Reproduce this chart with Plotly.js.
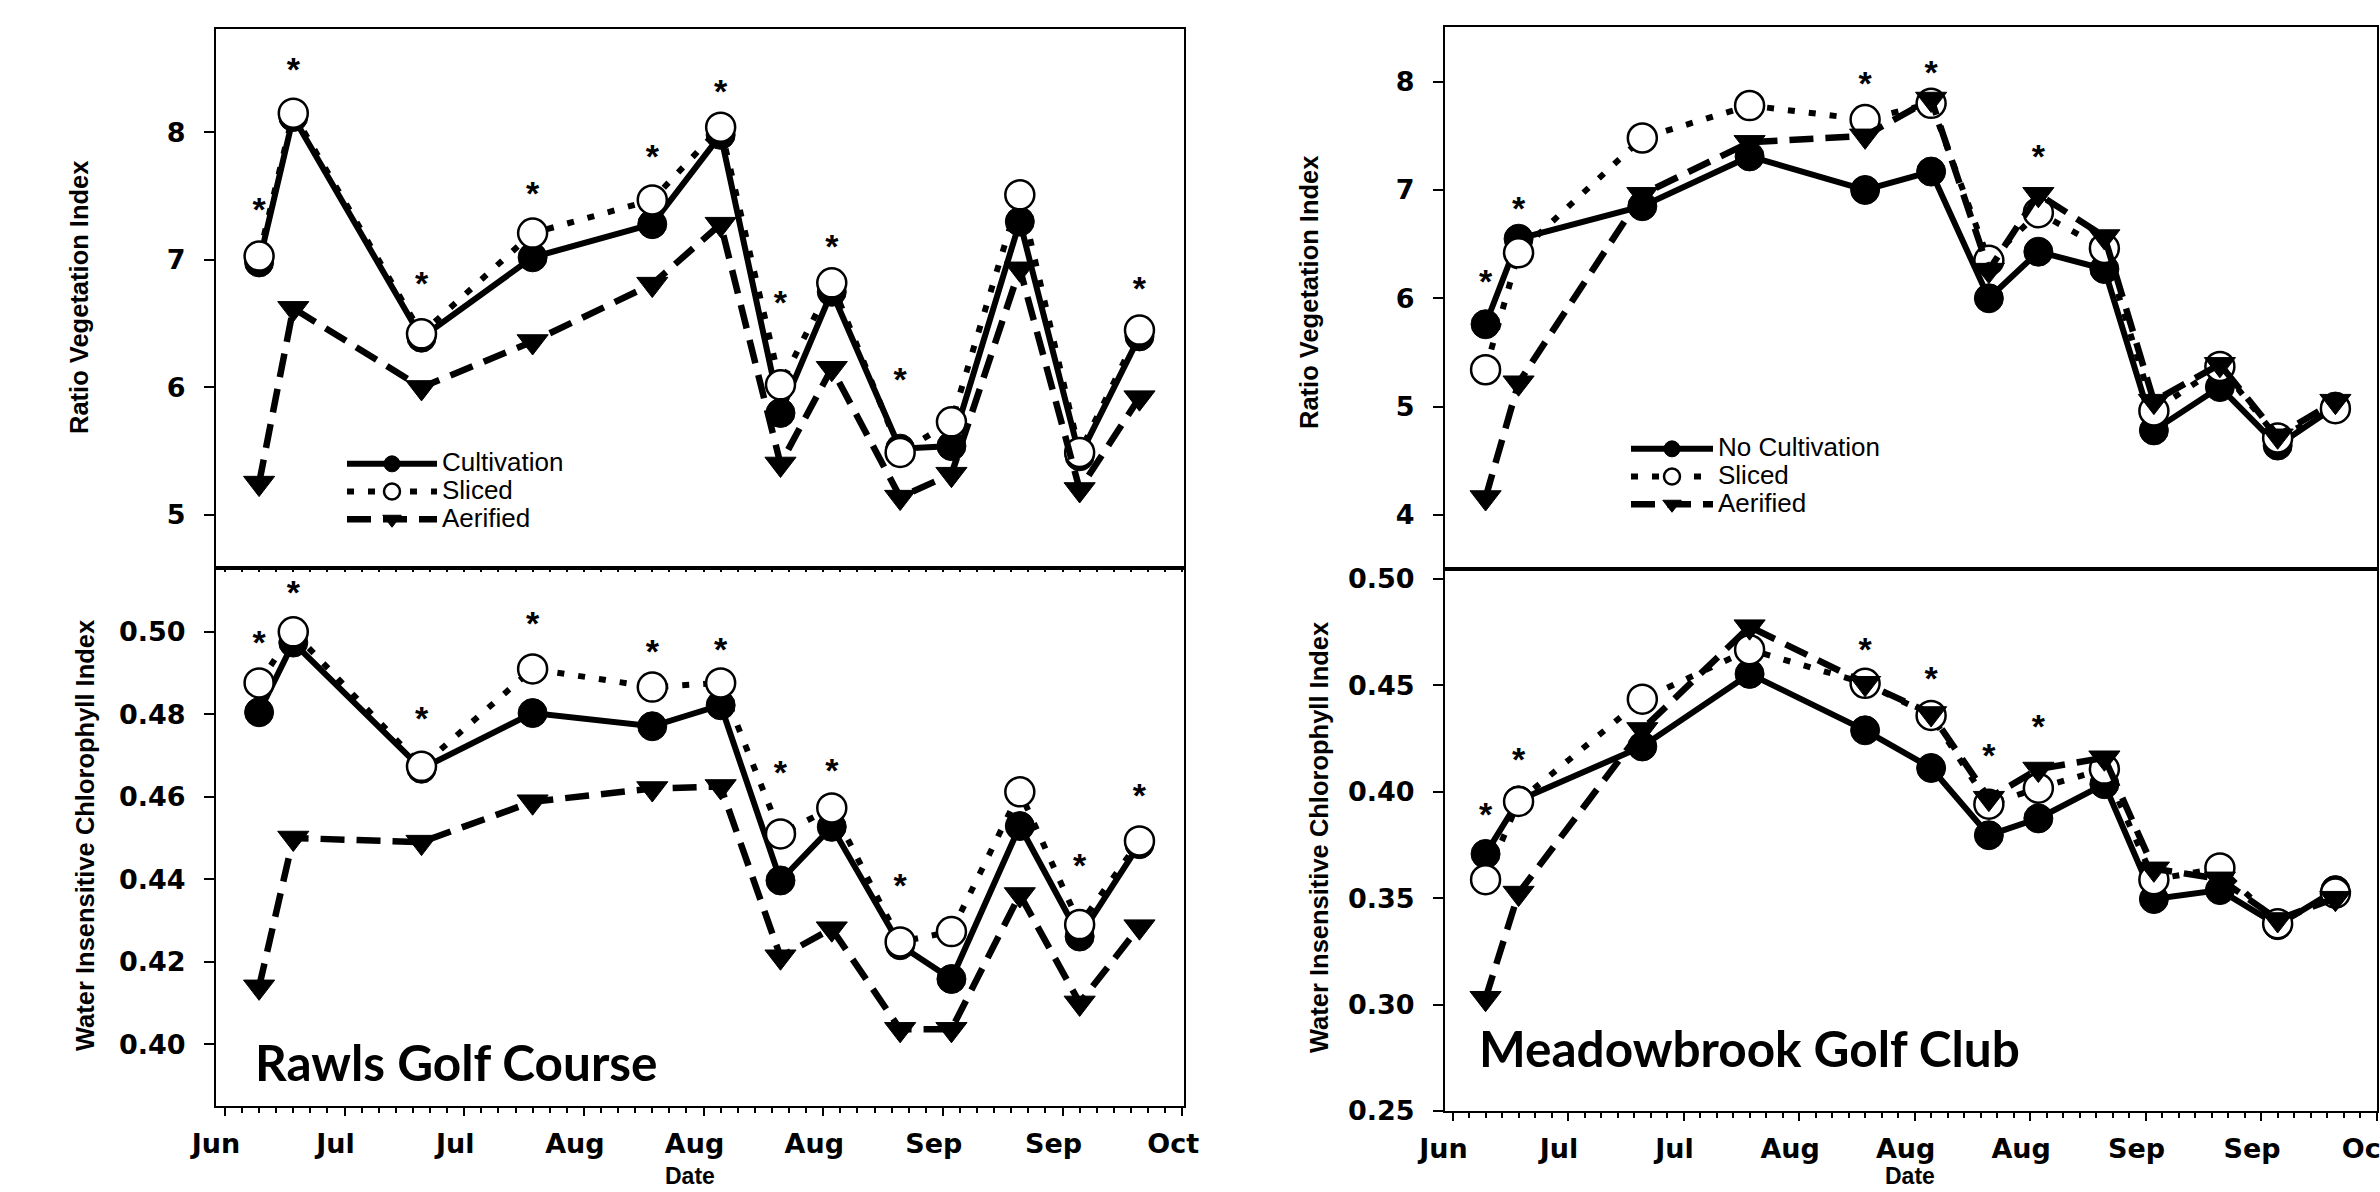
<!DOCTYPE html>
<html>
<head>
<meta charset="utf-8">
<script src="https://cdn.plot.ly/plotly-3.0.1.min.js"></script>
<style>
  html, body { margin: 0; padding: 0; background: #ffffff; }
  #chart { width: 2380px; height: 1192px; }
</style>
</head>
<body>
<div id="chart"></div>
<script>
// ---------------- DATA ----------------
const sampleDates = ['2014-06-25','2014-06-29','2014-07-14','2014-07-27','2014-08-10','2014-08-18',
                     '2014-08-25','2014-08-31','2014-09-08','2014-09-14','2014-09-22','2014-09-29','2014-10-06'];

const tickDates  = ['2014-06-21','2014-07-05','2014-07-19','2014-08-02','2014-08-16','2014-08-30','2014-09-13','2014-09-27','2014-10-11'];
const tickLabels = ['Jun','Jul','Jul','Aug','Aug','Aug','Sep','Sep','Oct'];

const rviTicks   = [4, 5, 6, 7, 8];
const rviLabels  = ['4', '5', '6', '7', '8'];
const wiciTicksRawls  = [0.40, 0.42, 0.44, 0.46, 0.48, 0.50];
const wiciLabelsRawls = ['0.40', '0.42', '0.44', '0.46', '0.48', '0.50'];
const wiciTicksMeadow  = [0.25, 0.30, 0.35, 0.40, 0.45, 0.50];
const wiciLabelsMeadow = ['0.25', '0.30', '0.35', '0.40', '0.45', '0.50'];

// Rawls Golf Course
const rawlsNames = ['Cultivation', 'Sliced', 'Aerified'];
const rawlsRviCultivation = [6.98, 8.12, 6.39, 7.02, 7.28, 7.98, 5.80, 6.75, 5.52, 5.54, 7.30, 5.46, 6.40];
const rawlsRviSliced      = [7.03, 8.15, 6.42, 7.21, 7.47, 8.04, 6.02, 6.82, 5.49, 5.73, 7.51, 5.49, 6.45];
const rawlsRviAerified    = [5.25, 6.62, 6.00, 6.36, 6.81, 7.28, 5.40, 6.15, 5.14, 5.32, 6.93, 5.20, 5.92];
const rawlsRviStars       = [7.37, 8.47, 6.79, 7.50, 7.79, 8.30, 6.64, 7.08, 6.04, null, null, null, 6.75];

const rawlsWiciCultivation = [0.4805, 0.4974, 0.4668, 0.4803, 0.4771, 0.4822, 0.4397, 0.4527, 0.4240, 0.4158, 0.4529, 0.4261, 0.4485];
const rawlsWiciSliced      = [0.4876, 0.5000, 0.4674, 0.4910, 0.4866, 0.4876, 0.4510, 0.4573, 0.4248, 0.4273, 0.4612, 0.4290, 0.4493];
const rawlsWiciAerified    = [0.4139, 0.4500, 0.4490, 0.4588, 0.4620, 0.4625, 0.4212, 0.4280, 0.4036, 0.4036, 0.4363, 0.4100, 0.4285];
const rawlsWiciStars       = [0.4966, 0.5088, 0.4783, 0.5012, 0.4944, 0.4951, 0.4651, 0.4656, 0.4377, null, null, 0.4426, 0.4595];

// Meadowbrook Golf Club
const meadowNames = ['No Cultivation', 'Sliced', 'Aerified'];
const meadowRviNoCultivation = [5.76, 6.55, 6.85, 7.31, 7.00, 7.17, 6.00, 6.43, 6.27, 4.78, 5.18, 4.64, 5.00];
const meadowRviSliced        = [5.34, 6.42, 7.48, 7.78, 7.65, 7.80, 6.35, 6.79, 6.46, 4.96, 5.37, 4.71, 4.98];
const meadowRviAerified      = [4.16, 5.22, 6.96, 7.44, 7.50, 7.84, 6.26, 6.96, 6.57, 5.05, 5.39, 4.73, 5.05];
const meadowRviStars         = [6.13, 6.80, null, null, 7.96, 8.06, null, 7.28, null, null, null, null, null];

const meadowWiciNoCultivation = [0.3708, 0.3960, 0.4213, 0.4554, 0.4289, 0.4112, 0.3796, 0.3875, 0.4036, 0.3496, 0.3538, 0.3373, 0.3538];
const meadowWiciSliced        = [0.3587, 0.3955, 0.4435, 0.4668, 0.4510, 0.4359, 0.3942, 0.4017, 0.4107, 0.3587, 0.3642, 0.3380, 0.3524];
const meadowWiciAerified      = [0.3030, 0.3524, 0.4293, 0.4776, 0.4510, 0.4368, 0.3970, 0.4107, 0.4160, 0.3638, 0.3591, 0.3400, 0.3500];
const meadowWiciStars         = [0.388, 0.414, null, null, 0.4656, 0.4519, 0.4155, 0.4291, null, null, null, null, null];

// ---------------- STYLES ----------------
const W = 2380, H = 1192;
const fx = p => p / W;          // pixel -> paper x
const fy = p => 1 - p / H;      // pixel -> paper y

const styleSolid = { line: { color: 'black', width: 6 },
  marker: { symbol: 'circle', size: 29, color: 'black', line: { color: 'black', width: 1 } } };
const styleDot = { line: { color: 'black', width: 6, dash: '7px,14px' },
  marker: { symbol: 'circle', size: 29, color: 'white', line: { color: 'black', width: 2.5 } } };
const styleDash = { line: { color: 'black', width: 6.5, dash: '24px,12px' },
  marker: { symbol: 'triangle-down', size: 27, color: 'black', line: { color: 'black', width: 1 } } };

// legend entries: larger glyphs than the (tight) legend row spacing
const legendLabel = s => '<span style="font-size:26px">' + s + '</span>';

function series(y, name, st, xa, ya, legendId, showLegend) {
  return { type: 'scatter', mode: 'lines+markers', x: sampleDates, y: y, name: legendLabel(name),
    xaxis: xa, yaxis: ya, line: st.line, marker: st.marker,
    legend: legendId, showlegend: showLegend, hoverinfo: 'skip' };
}
function stars(y, xa, ya) {
  return { type: 'scatter', mode: 'text', x: sampleDates, y: y, text: y.map(v => v === null ? '' : '*'),
    textposition: 'middle center',
    textfont: { family: 'Liberation Sans, Arial, sans-serif', size: 34, color: 'black', weight: 'bold' },
    xaxis: xa, yaxis: ya, showlegend: false, cliponaxis: false, hoverinfo: 'skip' };
}

const data = [
  series(rawlsRviCultivation, rawlsNames[0], styleSolid, 'x', 'y', 'legend', true),
  series(rawlsRviSliced,      rawlsNames[1], styleDot,   'x', 'y', 'legend', true),
  series(rawlsRviAerified,    rawlsNames[2], styleDash,  'x', 'y', 'legend', true),
  stars(rawlsRviStars, 'x', 'y'),
  series(rawlsWiciCultivation, rawlsNames[0], styleSolid, 'x2', 'y2', 'legend', false),
  series(rawlsWiciSliced,      rawlsNames[1], styleDot,   'x2', 'y2', 'legend', false),
  series(rawlsWiciAerified,    rawlsNames[2], styleDash,  'x2', 'y2', 'legend', false),
  stars(rawlsWiciStars, 'x2', 'y2'),
  series(meadowRviNoCultivation, meadowNames[0], styleSolid, 'x3', 'y3', 'legend2', true),
  series(meadowRviSliced,        meadowNames[1], styleDot,   'x3', 'y3', 'legend2', true),
  series(meadowRviAerified,      meadowNames[2], styleDash,  'x3', 'y3', 'legend2', true),
  stars(meadowRviStars, 'x3', 'y3'),
  series(meadowWiciNoCultivation, meadowNames[0], styleSolid, 'x4', 'y4', 'legend2', false),
  series(meadowWiciSliced,        meadowNames[1], styleDot,   'x4', 'y4', 'legend2', false),
  series(meadowWiciAerified,      meadowNames[2], styleDash,  'x4', 'y4', 'legend2', false),
  stars(meadowWiciStars, 'x4', 'y4')
];

const DAY = 86400000;
const tickFontX = { family: 'DejaVu Sans, sans-serif', size: 27, color: 'black', weight: 'bold' };
const tickFontY = { family: 'DejaVu Sans, sans-serif', size: 27, color: 'black', weight: 'bold' };

function xAxis(pxL, pxR, range, anchor, mode) {
  // mode: 'labels' (bottom panel), 'ticks' (small ticks, no labels), 'none'
  const ax = { type: 'date', domain: [fx(pxL), fx(pxR)], range: range, anchor: anchor,
    showgrid: false, zeroline: false, showline: true, linecolor: 'black', linewidth: 2, mirror: true,
    tickmode: 'array', tickvals: tickDates, ticktext: tickLabels,
    ticks: mode === 'none' ? '' : 'outside', ticklen: mode === 'labels' ? 8 : 4, tickwidth: 2, tickcolor: 'black',
    showticklabels: mode === 'labels', tickfont: tickFontX, ticklabelshift: -9, ticklabelstandoff: 5,
    ticklabeloverflow: 'allow', fixedrange: true };
  if (mode !== 'none') {
    ax.minor = { tickmode: 'linear', tick0: tickDates[0], dtick: 2 * DAY, ticks: 'outside',
      ticklen: mode === 'labels' ? 5 : 4, tickwidth: 2, tickcolor: 'black', showgrid: false };
  }
  return ax;
}
function yAxis(pxT, pxB, range, vals, labels, anchor) {
  return { domain: [fy(pxB), fy(pxT)], range: range, anchor: anchor,
    showgrid: false, zeroline: false, showline: true, linecolor: 'black', linewidth: 2, mirror: true,
    tickmode: 'array', tickvals: vals, ticktext: labels, ticks: 'outside', ticklen: 10, tickwidth: 2,
    tickcolor: 'black', tickfont: tickFontY, ticklabelstandoff: 13, fixedrange: true };
}

const leftRange  = ['2014-06-19 23:00', '2014-10-11 05:00'];
const rightRange = ['2014-06-20 02:00', '2014-10-11 01:00'];

const titleFont = { family: 'Liberation Sans, Arial, sans-serif', size: 25.5, color: 'black', weight: 'bold' };
const dateFont  = { family: 'Liberation Sans, Arial, sans-serif', size: 23, color: 'black', weight: 'bold' };
const siteFont  = { family: 'Lato, sans-serif', size: 49.5, color: 'black', weight: 'bold' };
const legendFont = { family: 'Liberation Sans, Arial, sans-serif', size: 19, color: 'black' };

function ann(text, x, y, font, extra) {
  return Object.assign({ text: text, x: x, y: y, xref: 'paper', yref: 'paper', showarrow: false, font: font }, extra || {});
}

const layout = {
  width: W, height: H,
  margin: { l: 0, r: 0, t: 0, b: 0, pad: 0 },
  paper_bgcolor: 'white', plot_bgcolor: 'white',
  xaxis:  xAxis(216, 1184, leftRange, 'y', 'ticks'),
  yaxis:  yAxis(29, 566, [4.60, 8.81], rviTicks.slice(1), rviLabels.slice(1), 'x'),
  xaxis2: xAxis(216, 1184, leftRange, 'y2', 'labels'),
  yaxis2: yAxis(570, 1106, [0.385, 0.515], wiciTicksRawls, wiciLabelsRawls, 'x2'),
  xaxis3: xAxis(1445, 2377, rightRange, 'y3', 'none'),
  yaxis3: yAxis(27, 569, [3.50, 8.505], rviTicks, rviLabels, 'x3'),
  xaxis4: xAxis(1445, 2377, rightRange, 'y4', 'labels'),
  yaxis4: yAxis(569, 1111, [0.25, 0.5047], wiciTicksMeadow, wiciLabelsMeadow, 'x4'),
  legend: { x: fx(342), xanchor: 'left', y: fy(445), yanchor: 'top', bgcolor: 'rgba(0,0,0,0)', borderwidth: 0,
    font: legendFont, itemwidth: 90, tracegroupgap: 0 },
  legend2: { x: fx(1626), xanchor: 'left', y: fy(430), yanchor: 'top', bgcolor: 'rgba(0,0,0,0)', borderwidth: 0,
    font: legendFont, itemwidth: 82, tracegroupgap: 0 },
  annotations: [
    ann('Ratio Vegetation Index', fx(79), fy(298), titleFont, { textangle: -90, xanchor: 'center', yanchor: 'middle' }),
    ann('Water Insensitive Chlorophyll Index', fx(85), fy(836), titleFont, { textangle: -90, xanchor: 'center', yanchor: 'middle' }),
    ann('Ratio Vegetation Index', fx(1309), fy(293), titleFont, { textangle: -90, xanchor: 'center', yanchor: 'middle' }),
    ann('Water Insensitive Chlorophyll Index', fx(1319), fy(838), titleFont, { textangle: -90, xanchor: 'center', yanchor: 'middle' }),
    ann('Date', fx(690), fy(1191), dateFont, { xanchor: 'center', yanchor: 'bottom' }),
    ann('Date', fx(1910), fy(1191), dateFont, { xanchor: 'center', yanchor: 'bottom' }),
    ann('Rawls Golf Course', fx(253), fy(1062), siteFont, { xanchor: 'left', yanchor: 'middle' }),
    ann('Meadowbrook Golf Club', fx(1477), fy(1048), siteFont, { xanchor: 'left', yanchor: 'middle' })
  ]
};

Plotly.newPlot('chart', data, layout, { displayModeBar: false, staticPlot: true });
</script>
</body>
</html>
